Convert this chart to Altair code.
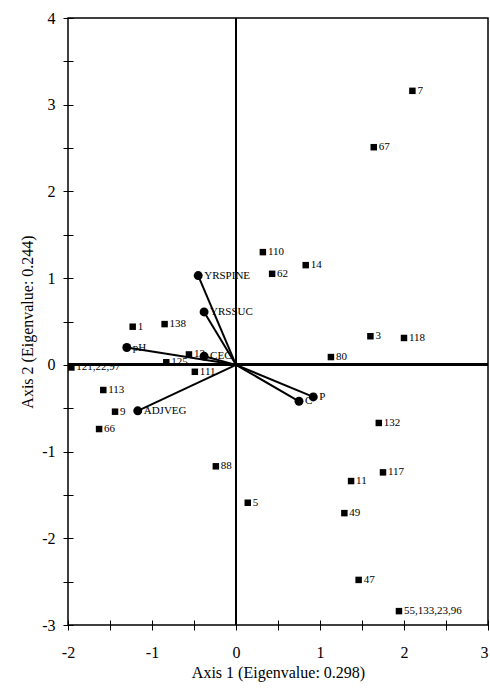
import altair as alt
import pandas as pd

# Site scores (squares) on the first two ordination axes
site_labels = ["7", "67", "110", "62", "14", "3", "118", "80", "132", "117", "11",
               "49", "47", "55,133,23,96", "5", "88", "66", "9", "113", "121,22,97",
               "1", "138", "12", "125", "111"]
site_x = [2.10, 1.64, 0.32, 0.43, 0.83, 1.60, 2.00, 1.13, 1.70, 1.75, 1.37,
          1.29, 1.46, 1.94, 0.14, -0.24, -1.63, -1.44, -1.58, -1.96,
          -1.23, -0.85, -0.56, -0.83, -0.49]
site_y = [3.16, 2.51, 1.30, 1.05, 1.15, 0.33, 0.31, 0.09, -0.67, -1.24, -1.34,
          -1.71, -2.48, -2.84, -1.59, -1.17, -0.74, -0.54, -0.29, -0.03,
          0.44, 0.47, 0.12, 0.03, -0.08]

# Environmental variable vectors (biplot arrows)
env_labels = ["YRSPINE", "YRSSUC", "pH", "CEC", "ADJVEG", "C", "P"]
env_x = [-0.45, -0.38, -1.30, -0.38, -1.17, 0.75, 0.92]
env_y = [1.03, 0.61, 0.20, 0.10, -0.53, -0.42, -0.37]

# Axis tick positions (labels only on whole numbers)
x_ticks = [-2, -1.5, -1, -0.5, 0, 0.5, 1, 1.5, 2, 2.5, 3]
y_ticks = [-3, -2.5, -2, -1.5, -1, -0.5, 0, 0.5, 1, 1.5, 2, 2.5, 3, 3.5, 4]

sites = pd.DataFrame({"x": site_x, "y": site_y, "label": site_labels})
env = pd.DataFrame({"x": env_x, "y": env_y, "label": env_labels})

FONT = "Liberation Serif"
label_expr = "datum.value % 1 === 0 ? toString(datum.value) : ''"

x_scale = alt.Scale(domain=[-2, 3], nice=False, zero=False)
y_scale = alt.Scale(domain=[-3, 4], nice=False, zero=False)

x_enc = alt.X("x:Q", scale=x_scale, title="Axis 1 (Eigenvalue: 0.298)",
              axis=alt.Axis(values=x_ticks, labelExpr=label_expr, grid=False,
                            domain=False, offset=-5, tickSize=10, tickColor="black",
                            tickWidth=1, labelPadding=14, labelFlush=False,
                            labelOverlap=False, titlePadding=4,
                            labelAlign={"condition": {"test": "datum.value === 3",
                                                      "value": "right"},
                                        "value": "center"}))
y_enc = alt.Y("y:Q", scale=y_scale, title="Axis 2 (Eigenvalue: 0.244)",
              axis=alt.Axis(values=y_ticks, labelExpr=label_expr, grid=False,
                            domain=False, offset=-5, tickSize=10, tickColor="black",
                            tickWidth=1, labelPadding=8, labelFlush=False,
                            labelOverlap=False, titlePadding=6))

base_sites = alt.Chart(sites)
base_env = alt.Chart(env)

# Cross-hair through the origin
zero_v = alt.Chart(sites).mark_rule(color="black", strokeWidth=2).encode(
    x=alt.datum(0, scale=x_scale), y=alt.value(0), y2=alt.value(607))
zero_h = alt.Chart(sites).mark_rule(color="black", strokeWidth=2).encode(
    y=alt.datum(0, scale=y_scale), x=alt.value(0), x2=alt.value(420))

arrows = base_env.mark_rule(color="black", strokeWidth=2).encode(
    x=x_enc, y=y_enc, x2=alt.datum(0), y2=alt.datum(0))
env_pts = base_env.mark_point(shape="circle", filled=True, color="black",
                              opacity=1, size=80).encode(x=x_enc, y=y_enc)
env_txt = base_env.mark_text(align="left", baseline="middle", dx=6, font=FONT,
                             fontSize=11, color="black").encode(
    x=x_enc, y=y_enc, text="label:N")

site_pts = base_sites.mark_point(shape="square", filled=True, color="black",
                                 opacity=1, size=42).encode(x=x_enc, y=y_enc)
site_txt = base_sites.mark_text(align="left", baseline="middle", dx=5, font=FONT,
                                fontSize=11, color="black").encode(
    x=x_enc, y=y_enc, text="label:N")

chart = alt.layer(zero_v, zero_h, arrows, env_pts, env_txt, site_pts, site_txt).properties(
    width=420, height=607,
    autosize=alt.AutoSizeParams(type="none"),
    padding={"left": 68, "top": 18, "right": 2, "bottom": 73},
    background="white",
).configure_view(
    stroke="black", strokeWidth=1.5
).configure_axis(
    labelFont=FONT, labelFontSize=16, labelColor="black",
    titleFont=FONT, titleFontSize=16, titleFontWeight="normal", titleColor="black",
)

chart.save("out.html", embed_options={"renderer": "svg", "actions": False})
